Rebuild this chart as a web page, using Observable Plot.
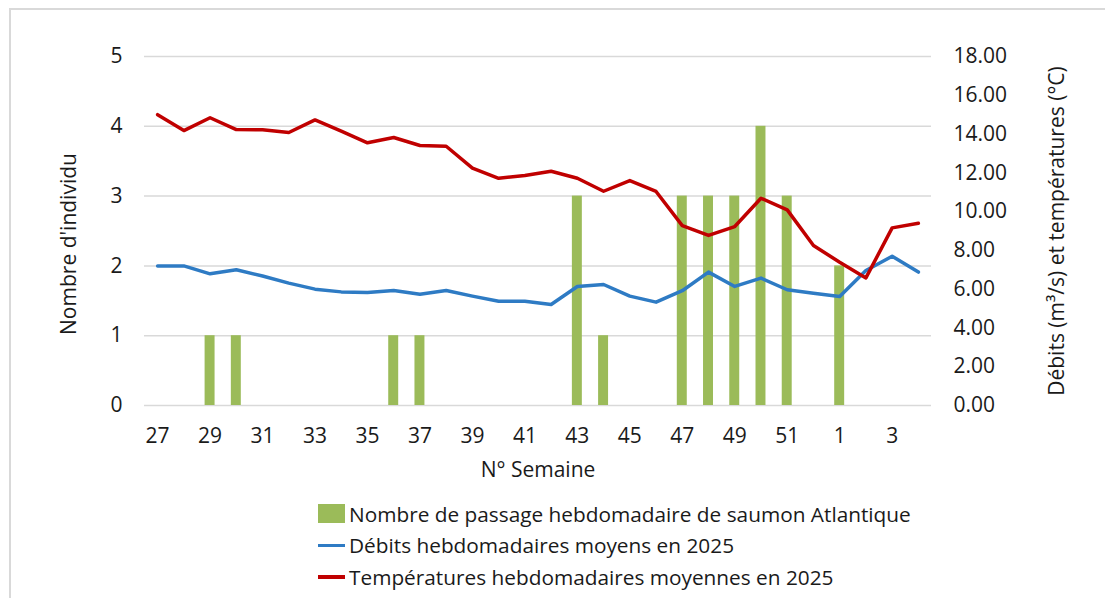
<!DOCTYPE html>
<html>
<head>
<meta charset="utf-8">
<script src="https://cdn.jsdelivr.net/npm/d3@7"></script>
<script src="https://cdn.jsdelivr.net/npm/@observablehq/plot@0.6"></script>
<style>
  html, body { margin: 0; padding: 0; background: #fff; }
  body { width: 1105px; height: 598px; position: relative; overflow: hidden; font-family: "Open Sans", Lato, sans-serif; }
  #frame { position: absolute; left: 9px; top: 8px; width: 1200px; height: 700px; border-left: 2px solid #d9d9d9; border-top: 2px solid #d9d9d9; pointer-events: none; }
  #chart { position: absolute; left: 0; top: 0; }
  #legend { position: absolute; left: 318px; top: 498px; font-size: 20.8px; color: #1a1a1a; }
  .row { display: flex; align-items: center; height: 31.5px; }
  .sw { width: 27px; margin-right: 4px; }
  .box { height: 19px; background: #9bbb59; }
  .ln { height: 3.5px; }
</style>
</head>
<body>
<div id="chart"></div>
<div id="frame"></div>
<div id="legend"></div>
<script>
// Weeks (N° Semaine)
const weeks = ["27","28","29","30","31","32","33","34","35","36","37","38","39","40","41","42","43","44","45","46","47","48","49","50","51","52","1","2","3","4"];
// Nombre de passage hebdomadaire de saumon Atlantique (left axis)
const passages = [0,0,1,1,0,0,0,0,0,1,1,0,0,0,0,0,3,1,0,0,3,3,3,4,3,0,2,0,0,0];
// Débits hebdomadaires moyens en 2025 (m³/s, right axis)
const debits = [7.2,7.2,6.79,7.0,6.68,6.31,6.0,5.86,5.83,5.93,5.74,5.93,5.64,5.38,5.38,5.21,6.14,6.24,5.64,5.33,5.92,6.88,6.14,6.57,5.97,5.79,5.62,6.96,7.7,6.88];
// Températures hebdomadaires moyennes en 2025 (°C, right axis)
const temperatures = [15.0,14.18,14.84,14.23,14.22,14.08,14.73,14.15,13.55,13.82,13.41,13.37,12.24,11.72,11.86,12.08,11.72,11.05,11.6,11.04,9.28,8.77,9.23,10.69,10.09,8.25,7.39,6.58,9.16,9.4];
// Tick labels
const xTicks = ["27","29","31","33","35","37","39","41","43","45","47","49","51","1","3"];
const leftTicks = [0,1,2,3,4,5];
const rightTicks = [0,2,4,6,8,10,12,14,16,18];

const titles = {
  x: "N° Semaine",
  left: "Nombre d'individu",
  right: "Débits (m³/s) et températures (°C)"
};
const labels = {
  bars: "Nombre de passage hebdomadaire de saumon Atlantique",
  debit: "Débits hebdomadaires moyens en 2025",
  temp: "Températures hebdomadaires moyennes en 2025"
};
const colors = {bars: "#9bbb59", debit: "#2e7bc4", temp: "#c00000"};

const leftMax = 5, rightMax = 18;
const toLeft = v => v * leftMax / rightMax;

const data = weeks.map((w, i) => ({week: w, n: passages[i], q: debits[i], t: temperatures[i]}));

const textColor = "#1a1a1a";
const font = "'Open Sans', Lato, sans-serif";
const fs = 21;
const plot = Plot.plot({
  width: 1105,
  height: 490,
  marginLeft: 144,
  marginRight: 174,
  marginTop: 56,
  marginBottom: 85,
  style: {fontFamily: font, fontSize: fs + "px", color: textColor, background: "transparent"},
  x: {type: "band", domain: weeks, paddingInner: 0.62, paddingOuter: 0.31, round: false},
  y: {domain: [0, leftMax]},
  marks: [
    Plot.gridY(leftTicks, {stroke: "#d9d9d9", strokeOpacity: 1, strokeWidth: 1.5}),
    Plot.barY(data, {x: "week", y: "n", fill: colors.bars}),
    Plot.lineY(data, {x: "week", y: d => toLeft(d.q), stroke: colors.debit, strokeWidth: 3.5, strokeLinejoin: "round"}),
    Plot.lineY(data, {x: "week", y: d => toLeft(d.t), stroke: colors.temp, strokeWidth: 3.5, strokeLinejoin: "round"}),
    Plot.axisX({ticks: xTicks, tickSize: 0, tickPadding: 23, fontSize: fs, label: null}),
    Plot.axisY({anchor: "left", ticks: leftTicks, tickFormat: "d", tickSize: 0, tickPadding: 22, fontSize: fs, label: null}),
    Plot.axisY(rightTicks.map(toLeft), {anchor: "right", tickSize: 0, tickPadding: 22, fontSize: fs, tickFormat: d => (d * rightMax / leftMax).toFixed(2), label: null}),
    Plot.text([titles.x], {frameAnchor: "bottom", dy: 65, lineAnchor: "middle", textAnchor: "middle", fontSize: fs, fill: textColor}),
    Plot.text([titles.left], {frameAnchor: "left", rotate: -90, dx: -75, dy: 13, lineAnchor: "middle", textAnchor: "middle", fontSize: fs, fill: textColor}),
    Plot.text([titles.right], {frameAnchor: "right", rotate: -90, dx: 126, dy: 0, lineAnchor: "middle", textAnchor: "middle", fontSize: fs, fill: textColor})
  ]
});
document.getElementById("chart").appendChild(plot);

const legend = document.getElementById("legend");
[["bars", "box"], ["debit", "ln"], ["temp", "ln"]].forEach(([k, cls]) => {
  const row = document.createElement("div");
  row.className = "row";
  const sw = document.createElement("div");
  sw.className = "sw " + cls;
  sw.style.background = colors[k];
  const tx = document.createElement("span");
  tx.textContent = labels[k];
  row.appendChild(sw);
  row.appendChild(tx);
  legend.appendChild(row);
});
</script>
</body>
</html>
